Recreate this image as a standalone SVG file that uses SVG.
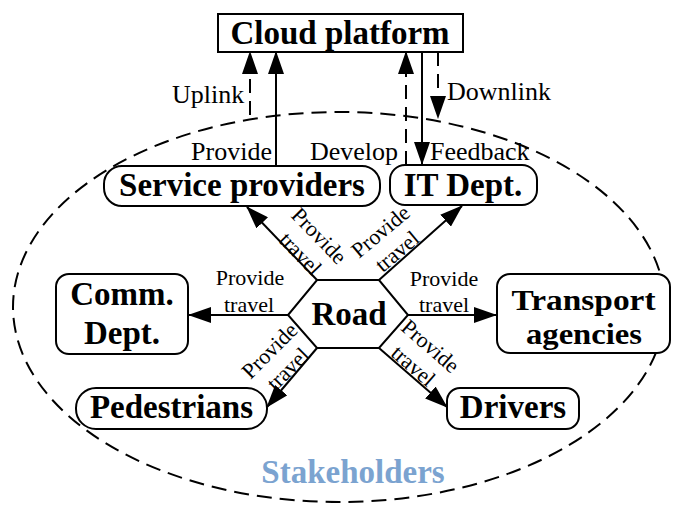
<svg xmlns="http://www.w3.org/2000/svg" width="673" height="505" viewBox="0 0 673 505">
<style>
.box{fill:#fff;stroke:#000;stroke-width:2}
.node{font-family:"Liberation Serif","Times New Roman",serif;font-weight:bold;font-size:33px;fill:#000;text-anchor:middle}
.lbl{font-family:"Liberation Serif","Times New Roman",serif;font-size:26px;fill:#000}
.sm{font-family:"Liberation Serif","Times New Roman",serif;font-size:22px;fill:#000;text-anchor:middle}
.ln{stroke:#000;stroke-width:2;fill:none;marker-end:url(#ah)}
.dash{stroke-dasharray:14 8}
</style>
<defs>
<marker id="ah" markerUnits="userSpaceOnUse" markerWidth="23" markerHeight="16" refX="22" refY="8" orient="auto" viewBox="0 0 23 16">
<path d="M0,0 L23,8 L0,16 Z" fill="#000" stroke="none"/>
</marker>
</defs>
<rect width="673" height="505" fill="#fff"/>
<g id="stakeholders">
<ellipse cx="339" cy="307" rx="326" ry="195" fill="none" stroke="#000" stroke-width="2" stroke-dasharray="15 8"/>
<text x="353" y="483" class="node" style="fill:#7BA3D0">Stakeholders</text>
</g>
<g id="connectors">
<line class="ln dash" x1="250" y1="115" x2="250" y2="52"/>
<line class="ln" x1="276" y1="166" x2="276" y2="52"/>
<line class="ln dash" x1="406" y1="165" x2="406" y2="52"/>
<line class="ln" x1="422" y1="52" x2="422" y2="164"/>
<line class="ln dash" x1="438" y1="52" x2="438" y2="118"/>
<line class="ln" x1="288" y1="315" x2="189" y2="315"/>
<line class="ln" x1="408" y1="315" x2="496" y2="315"/>
<line class="ln" x1="317" y1="280" x2="247" y2="207"/>
<line class="ln" x1="379" y1="280" x2="462" y2="206"/>
<line class="ln" x1="317" y1="348" x2="267" y2="407"/>
<line class="ln" x1="379" y1="348" x2="447" y2="407"/>
<text class="lbl" x="172" y="103">Uplink</text>
<text class="lbl" x="447" y="100">Downlink</text>
<text class="lbl" x="272" y="160" text-anchor="end">Provide</text>
<text class="lbl" x="310" y="160">Develop</text>
<text class="lbl" x="430" y="160">Feedback</text>
<text class="sm" x="250" y="285">Provide</text>
<text class="sm" x="249" y="312">travel</text>
<text class="sm" x="444" y="286">Provide</text>
<text class="sm" x="444" y="312">travel</text>
<g transform="translate(309.5,245) rotate(46)"><text class="sm" y="-6">Provide</text><text class="sm" y="20">travel</text></g>
<g transform="translate(389,241.7) rotate(-40)"><text class="sm" y="-6">Provide</text><text class="sm" y="20">travel</text></g>
<g transform="translate(279,360) rotate(-45)"><text class="sm" y="-6">Provide</text><text class="sm" y="20">travel</text></g>
<g transform="translate(421.7,356.3) rotate(41)"><text class="sm" y="-6">Provide</text><text class="sm" y="20">travel</text></g>
</g>
<g id="cloud">
<rect class="box" x="218" y="14" width="245" height="38"/>
<text class="node" x="340" y="44">Cloud platform</text>
</g>
<g id="service">
<rect class="box" x="104" y="166" width="276" height="40" rx="18"/>
<text class="node" x="242" y="196">Service providers</text>
</g>
<g id="it">
<rect class="box" x="390" y="165" width="147" height="40" rx="15"/>
<text class="node" x="463" y="196">IT Dept.</text>
</g>
<g id="comm">
<rect class="box" x="56" y="274" width="132" height="80" rx="13"/>
<text class="node" x="122" y="305">Comm.</text>
<text class="node" x="122" y="344">Dept.</text>
</g>
<g id="transport">
<rect class="box" x="497" y="274" width="173" height="79" rx="13"/>
<text class="node" x="583.5" y="310" style="font-size:30px" textLength="144" lengthAdjust="spacingAndGlyphs">Transport</text>
<text class="node" x="584" y="344" style="font-size:30px" textLength="116" lengthAdjust="spacingAndGlyphs">agencies</text>
</g>
<g id="pedestrians">
<rect class="box" x="76" y="388" width="191" height="41" rx="20"/>
<text class="node" x="171.5" y="418">Pedestrians</text>
</g>
<g id="drivers">
<rect class="box" x="447" y="388" width="132" height="41" rx="13"/>
<text class="node" x="513" y="418">Drivers</text>
</g>
<g id="road">
<polygon class="box" points="317,280 379,280 408,315 379,348 317,348 288,315"/>
<text class="node" x="349" y="325">Road</text>
</g>
</svg>
